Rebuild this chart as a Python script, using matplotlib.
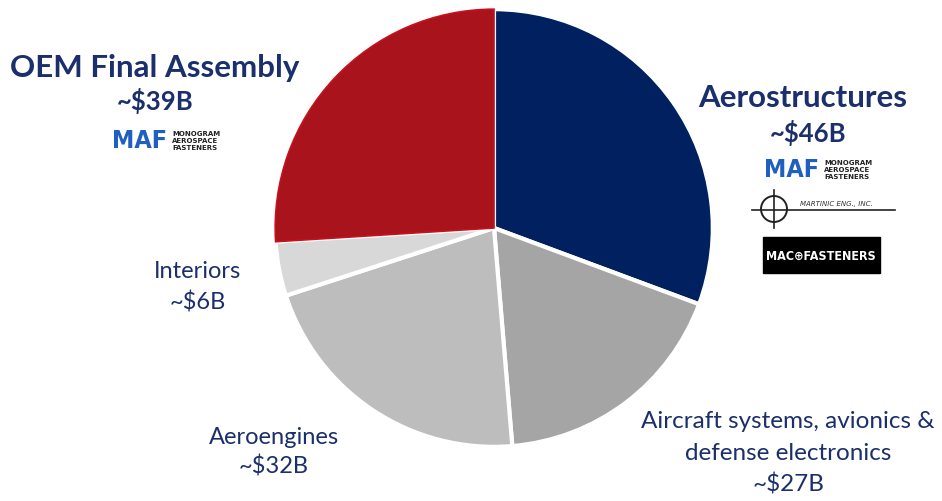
import matplotlib.pyplot as plt
from matplotlib.patches import Rectangle, Circle

# segment values in $B, clockwise from 12 o'clock
segments = ["Aerostructures", "Aircraft systems, avionics & defense electronics",
            "Aeroengines", "Interiors", "OEM Final Assembly"]
values = [46, 27, 32, 6, 39]
colors = ["#002060", "#a5a5a5", "#bdbdbd", "#d8d8d8", "#a8131c"]
edge_colors = ["white", "white", "white", "white", "#c8101e"]

navy = "#1a2f6b"
W, H = 942, 501

fig = plt.figure(figsize=(W / 100, H / 100), dpi=100)
plt.rcParams["font.family"] = ["Lato", "DejaVu Sans"]

# pie: centre ~(494, 228) px, radius ~221 px
cx, cy, r = 494, 228, 221
ax = fig.add_axes([(cx - r) / W, (H - cy - r) / H, 2 * r / W, 2 * r / H])
wedges, _ = ax.pie(values, colors=colors, startangle=90, counterclock=False,
                   wedgeprops=dict(linewidth=3, edgecolor="white"))
for w, ec in zip(wedges, edge_colors):
    if ec != "white":
        w.set_edgecolor(ec)
        w.set_linewidth(1.2)
ax.set_xlim(-1.01, 1.01)
ax.set_ylim(-1.01, 1.01)
ax.axis("off")


def px(x, y):
    return x / W, 1 - y / H


def label(x, y, s, size, bold=False):
    fig.text(*px(x, y), s, ha="center", va="center", fontsize=size, color=navy,
             fontweight="bold" if bold else "normal")


label(155, 68, "OEM Final Assembly", 22.5, True)
label(155, 101, "~$39B", 18.5, True)
label(803, 98, "Aerostructures", 22.5, True)
label(808, 133, "~$46B", 18.5, True)
label(198, 272, "Interiors", 17)
label(198, 302, "~$6B", 17)
label(274, 437, "Aeroengines", 17)
label(274, 467, "~$32B", 17)
label(788, 422, "Aircraft systems, avionics &", 17.5)
label(788, 453, "defense electronics", 17.5)
label(788, 484, "~$27B", 17.5)


def monogram(x, y):
    # stylised Monogram Aerospace Fasteners mark
    fig.text(*px(x, y), "MAF", ha="left", va="center", fontsize=18,
             fontweight="heavy", color="#1f5fbf", family="DejaVu Sans",
             fontstretch="condensed")
    fig.text(*px(x + 60, y), "MONOGRAM\nAEROSPACE\nFASTENERS", ha="left",
             va="center", fontsize=5, fontweight="bold", color="#222222",
             family="DejaVu Sans", linespacing=1.15)


monogram(112, 141)
monogram(764, 170)

# Martinic Eng. mark
ax_logo = fig.add_axes([0, 0, 1, 1], zorder=-1)
ax_logo.set_xlim(0, W)
ax_logo.set_ylim(H, 0)
ax_logo.axis("off")
ax_logo.add_patch(Circle((774, 209), 13, fill=False, lw=1.4, ec="#222222"))
ax_logo.plot([752, 895], [210, 210], color="#222222", lw=1.2)
ax_logo.plot([774, 774], [190, 228], color="#222222", lw=1.2)
fig.text(*px(800, 204), "MARTINIC ENG., INC.", fontsize=5, style="italic",
         color="#333333", va="center", family="DejaVu Sans")

# MAC Fasteners mark
ax_logo.add_patch(Rectangle((763, 237), 117, 36, color="black"))
fig.text(*px(821, 256), "MAC⊕FASTENERS", ha="center", va="center", fontsize=9,
         color="white", fontweight="bold", family="DejaVu Sans",
         fontstretch="condensed")

fig.savefig("out.png", dpi=100, facecolor="white")
